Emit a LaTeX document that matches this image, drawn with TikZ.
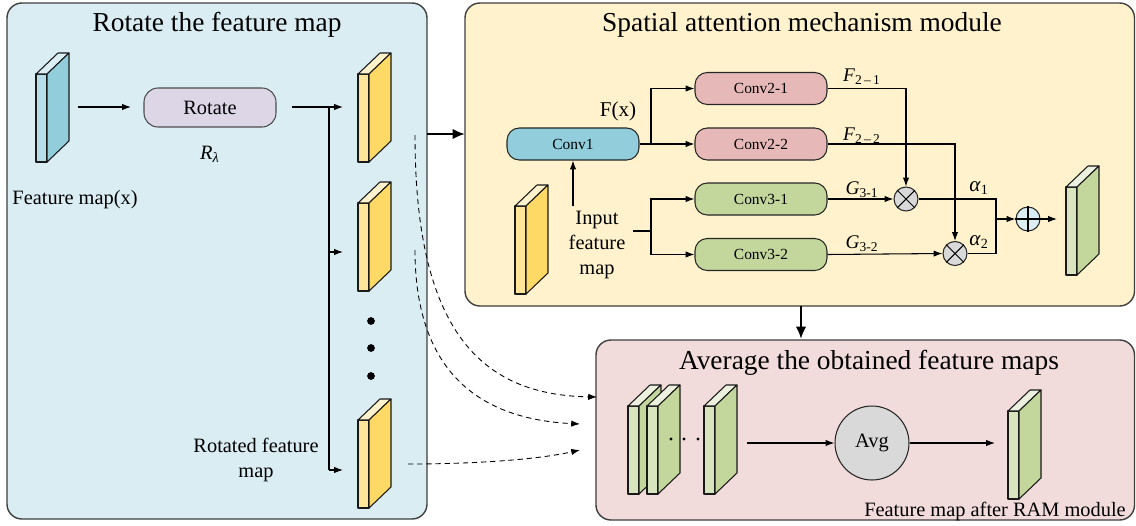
\documentclass[tikz,border=0pt]{standalone}
\usepackage{fontspec}
\setmainfont{Liberation Serif}
\usetikzlibrary{arrows.meta}
\definecolor{pblue}{HTML}{DAEDF3}
\definecolor{pyellow}{HTML}{FFF2CC}
\definecolor{ppink}{HTML}{F2DCDB}
\definecolor{bfront}{HTML}{B7DDE8}
\definecolor{bside}{HTML}{92CDDC}
\definecolor{btop}{HTML}{DAEEF3}
\definecolor{yfront}{HTML}{FFE599}
\definecolor{yside}{HTML}{FFD966}
\definecolor{ytop}{HTML}{FFF2CC}
\definecolor{gfront}{HTML}{D7E4BD}
\definecolor{gside}{HTML}{C3D69B}
\definecolor{gtop}{HTML}{EBF1DE}
\definecolor{rotfill}{HTML}{DDD6E6}
\definecolor{c1fill}{HTML}{92CDDC}
\definecolor{c2fill}{HTML}{E6B9B8}
\definecolor{c3fill}{HTML}{C3D69B}
\definecolor{grayfill}{HTML}{D9D9D9}
\definecolor{plusfill}{HTML}{DBEEF4}
\definecolor{edge}{HTML}{3F3F3F}
\newcommand{\txtA}{\fontsize{11.6}{14}\selectfont}
\newcommand{\txtT}{\fontsize{15.6}{18}\selectfont}
\newcommand{\txtC}{\fontsize{8.8}{10}\selectfont}
\newcommand{\fmap}[4]{\begin{scope}[shift={(#1)}]
 \draw[mapline,fill=#2] (0,0) rectangle (11,88);
 \draw[mapline,fill=#3] (0,0) -- (22,-21) -- (33,-21) -- (11,0) -- cycle;
 \draw[mapline,fill=#4] (11,0) -- (33,-21) -- (33,67) -- (11,88) -- cycle;
\end{scope}}
\begin{document}
\begin{tikzpicture}[x=0.02cm,y=-0.02cm,
  mapline/.style={draw=black!90,line width=0.6pt,line join=round},
  panel/.style={draw=edge,line width=0.8pt,rounded corners=8.5pt},
  arr/.style={line width=0.6pt,-{Latex[length=5pt,width=3.6pt]}},
  ln/.style={line width=0.6pt},
  thickarr/.style={line width=1.6pt,-{Latex[length=7pt,width=6pt]}},
  dasharr/.style={line width=0.5pt,dash pattern=on 3pt off 2.2pt,-{Latex[length=5pt,width=3.6pt]}},
  convbox/.style={draw=black!85,line width=0.6pt,rounded corners=7pt,minimum width=2.64cm,minimum height=0.64cm,inner sep=0pt,font=\txtC},
  opcirc/.style={circle,draw=black!85,line width=0.6pt,minimum size=0.48cm,inner sep=0pt},
  lbl/.style={inner sep=0pt,font=\txtA}
]
\useasboundingbox (0,0) rectangle (1136,525);

% panels
\draw[panel,fill=pblue] (7,3) rectangle (427,519);
\draw[panel,fill=pyellow] (465,3) rectangle (1134.5,306);
\draw[panel,fill=ppink] (596,340) rectangle (1134.5,520);

% titles
\node[inner sep=0pt,font=\txtT] (t1) at (217,25) {Rotate the feature map};
\node[inner sep=0pt,font=\txtT] (t2) at (802,25) {Spatial attention mechanism module};
\node[inner sep=0pt,font=\txtT] (t3) at (869,363) {Average the obtained feature maps};

% ---------- left panel ----------
\fmap{36,74}{bfront}{btop}{bside}
\node[lbl] (fmx) at (75,200) {Feature map(x)};
\node[draw=black!70,line width=0.6pt,fill=rotfill,rounded corners=8pt,minimum width=2.64cm,minimum height=0.78cm,inner sep=0pt,font=\txtA] (rot) at (210,107.5) {Rotate};
\node[lbl] (rl) at (210,154) {\textit{R}\textsubscript{\textit{λ}}};
\coordinate (bmout) at (78,107);
\coordinate (rotin) at (131,107);
\draw[arr] (bmout) -- (rotin);

\fmap{358,74}{yfront}{ytop}{yside}
\fmap{358,203}{yfront}{ytop}{yside}
\fmap{358,420}{yfront}{ytop}{yside}
\foreach \yy in {321,348,376} \fill (371,\yy) circle (2.2pt);

\coordinate (rotout) at (292,107);
\coordinate (br1) at (329,107);
\coordinate (br2) at (329,252);
\coordinate (br3) at (329,470);
\coordinate (m1in) at (343,107);
\coordinate (m2in) at (343,252);
\coordinate (m3in) at (343,470);
\draw[arr] (rotout) -- (m1in);
\draw[ln] (br1) -- (br3);
\draw[arr] (br2) -- (m2in);
\draw[arr] (br3) -- (m3in);
\node[lbl,align=center] (rfm) at (256,460) {Rotated feature\\map};

% dashed curves
\coordinate (d1s) at (415,135);
\coordinate (d1e) at (597,397);
\coordinate (d2s) at (415,250);
\coordinate (d2e) at (580,424);
\coordinate (d3s) at (408,464);
\coordinate (d3e) at (580,450);
\draw[dasharr] (d1s) .. controls (415,330) and (480,395) .. (d1e);
\draw[dasharr] (d2s) .. controls (415,390) and (500,420) .. (d2e);
\draw[dasharr] (d3s) .. controls (480,464) and (540,459) .. (d3e);

% thick arrows
\coordinate (ta1) at (427,134);
\coordinate (ta2) at (465,134);
\draw[thickarr] (ta1) -- (ta2);
\coordinate (tb1) at (801,306);
\coordinate (tb2) at (801,339);
\draw[thickarr] (tb1) -- (tb2);

% ---------- yellow panel ----------
\fmap{515,206}{yfront}{ytop}{yside}
\node[convbox,fill=c1fill] (c1) at (573,144) {Conv1};
\node[convbox,fill=c2fill] (c21) at (761,88.5) {Conv2-1};
\node[convbox,fill=c2fill] (c22) at (761,144) {Conv2-2};
\node[convbox,fill=c3fill] (c31) at (761,199) {Conv3-1};
\node[convbox,fill=c3fill] (c32) at (761,254.5) {Conv3-2};
\node[inner sep=0pt,font=\fontsize{12}{14}\selectfont] (fx) at (618,111) {F(x)};
\node[lbl,align=center] (inp) at (597,245) {Input\\feature\\map};

\coordinate (sp1) at (651,144);
\draw[ln] (c1.east) -- (sp1);
\draw[arr] (sp1) |- (c21.west);
\draw[arr] (sp1) -- (c22.west);
\coordinate (inarr) at (573,206);
\draw[arr] (inarr) -- (c1.south);
\coordinate (inout) at (633,231);
\coordinate (sp2) at (651,231);
\draw[ln] (inout) -- (sp2);
\draw[arr] (sp2) |- (c31.west);
\draw[arr] (sp2) |- (c32.west);

\node[opcirc,fill=grayfill] (o1) at (906,199) {};
\node[opcirc,fill=grayfill] (o2) at (955,253.5) {};
\draw[ln] (o1.north east) -- (o1.south west) (o1.north west) -- (o1.south east);
\draw[ln] (o2.north east) -- (o2.south west) (o2.north west) -- (o2.south east);
\node[opcirc,fill=plusfill] (op) at (1028,219) {};
\draw[ln] (op.north) -- (op.south) (op.west) -- (op.east);

\draw[arr] (c21.east) -| (o1.north);
\draw[arr] (c22.east) -| (o2.north);
\draw[arr] (c31.east) -- (o1.west);
\draw[arr] (c32.east) -- (o2.west);
\coordinate (j1) at (996,199);
\coordinate (j2) at (996,253.5);
\coordinate (j3) at (996,219);
\draw[ln] (o1.east) -- (j1) -- (j2) -- (o2.east);
\draw[arr] (j3) -- (op.west);
\coordinate (opout) at (1057,219);
\draw[arr] (op.east) -- (opout);
\fmap{1066,187}{gfront}{gtop}{gside}

\node[inner sep=0pt,font=\fontsize{11}{13}\selectfont] (lf1) at (862,77) {\textit{F}\textsubscript{2\,–\,1}};
\node[inner sep=0pt,font=\fontsize{11}{13}\selectfont] (lf2) at (862,136) {\textit{F}\textsubscript{2\,–\,2}};
\node[inner sep=0pt,font=\fontsize{11}{13}\selectfont] (lg1) at (862,190) {\textit{G}\textsubscript{3-1}};
\node[inner sep=0pt,font=\fontsize{11}{13}\selectfont] (lg2) at (862,244) {\textit{G}\textsubscript{3-2}};
\node[inner sep=0pt,font=\fontsize{12}{14}\selectfont] (la1) at (979,188) {\textit{α}\textsubscript{1}};
\node[inner sep=0pt,font=\fontsize{12}{14}\selectfont] (la2) at (979,242) {\textit{α}\textsubscript{2}};

% ---------- pink panel ----------
\fmap{628,406}{gfront}{gtop}{gside}
\fmap{647,406}{gfront}{gtop}{gside}
\fmap{704,406}{gfront}{gtop}{gside}
\foreach \xx in {671,684,698} \fill (\xx,439) circle (0.9pt);
\node[circle,draw=black!85,line width=0.6pt,fill=grayfill,minimum size=1.48cm,inner sep=0pt,font=\txtA] (avg) at (872,443) {Avg};
\coordinate (stout) at (747,443);
\draw[arr] (stout) -- (avg.west);
\coordinate (avout) at (995,443);
\draw[arr] (avg.east) -- (avout);
\fmap{1008,411}{gfront}{gtop}{gside}
\node[lbl] (cap) at (995,511) {Feature map after RAM module};
\end{tikzpicture}
\end{document}
